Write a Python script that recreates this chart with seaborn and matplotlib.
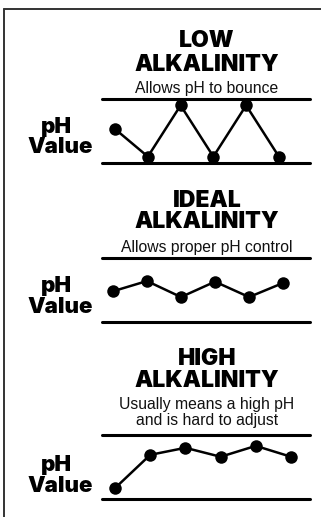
import matplotlib
matplotlib.use("Agg")
import matplotlib.pyplot as plt
from matplotlib.lines import Line2D
import seaborn as sns

# data (normalised pH, 0 = lower line, 1 = upper line)
steps = [0, 1, 2, 3, 4, 5]
low_ph = [0.53, 0.10, 0.90, 0.10, 0.90, 0.10]
ideal_ph = [0.48, 0.64, 0.39, 0.63, 0.39, 0.61]
high_ph = [0.17, 0.69, 0.80, 0.66, 0.83, 0.66]

titles = ["LOW", "IDEAL", "HIGH"]
subtitles = ["Allows pH to bounce", "Allows proper pH control",
             "Usually means a high pH\nand is hard to adjust"]

W, H = 321, 517
sns.set_theme(style="white")
plt.rcParams["font.family"] = ["Liberation Sans", "DejaVu Sans"]
heavy = ["Inter", "Lato", "DejaVu Sans"]

fig = plt.figure(figsize=(W / 100, H / 100), dpi=100)
fig.patch.set_facecolor("white")


def fx(x):
    return x / W


def fy(y):
    return 1 - y / H


# frame (top and left only)
fig.add_artist(Line2D([fx(4), fx(321)], [fy(9), fy(9)], color="#333333", lw=1.4))
fig.add_artist(Line2D([fx(4), fx(4)], [fy(9), fy(517)], color="#333333", lw=1.4))

panels = [
    # series, axes top, axes bottom, xlim, title baselines, subtitle baseline, pH baseline
    (low_ph, 99, 163, (-0.40, 5.95), 47, 71, 93, 133, 153),
    (ideal_ph, 258, 322, (-0.32, 5.79), 207, 228, 252, 292, 313),
    (high_ph, 435, 499, (-0.37, 5.54), 365, 387, 425, 471, 492),
]

for i, (vals, top, bot, xl, tb, ab, sb, pb, vb) in enumerate(panels):
    ax = fig.add_axes([fx(102), fy(bot), fx(310) - fx(102), (bot - top) / H])
    sns.lineplot(x=steps, y=vals, ax=ax, color="black", linewidth=1.8,
                 marker="o", markersize=9, markeredgewidth=0, clip_on=False)
    ax.axhline(0, color="black", lw=2.2, clip_on=False)
    ax.axhline(1, color="black", lw=2.2, clip_on=False)
    ax.set_xlim(*xl)
    ax.set_ylim(0, 1)
    ax.axis("off")

    fig.text(fx(207), fy(tb), titles[i], ha="center", va="baseline", family=heavy,
             fontsize=16.5, fontweight="black", color="black")
    fig.text(fx(207), fy(ab), "ALKALINITY", ha="center", va="baseline", family=heavy,
             fontsize=16.5, fontweight="black", color="black")
    fig.text(fx(207), fy(sb), subtitles[i], ha="center", va="baseline",
             fontsize=11.3, color="#111111", linespacing=1.1)
    fig.text(fx(56), fy(pb), "pH", ha="center", va="baseline", family=heavy,
             fontsize=16, fontweight="black", color="black")
    fig.text(fx(60), fy(vb), "Value", ha="center", va="baseline", family=heavy,
             fontsize=16, fontweight="black", color="black")

fig.savefig("out.png", dpi=100, facecolor="white")
